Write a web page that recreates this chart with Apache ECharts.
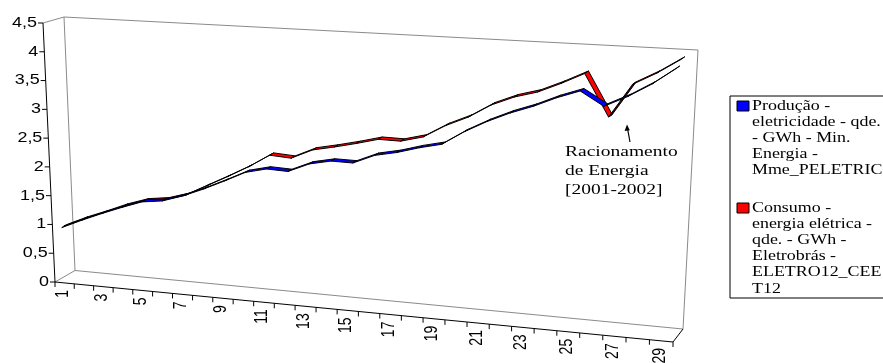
<!DOCTYPE html>
<html>
<head>
<meta charset="utf-8">
<script src="https://cdn.jsdelivr.net/npm/echarts@6/dist/echarts.min.js"></script>
<style>
  html, body { margin: 0; padding: 0; background: #ffffff; }
  #chart { width: 883px; height: 363px; }
</style>
</head>
<body>
<div id="chart"></div>
<script>
// ---- data -------------------------------------------------------------
const categories = ['1','2','3','4','5','6','7','8','9','10','11','12','13','14','15',
  '16','17','18','19','20','21','22','23','24','25','26','27','28','29'];

// Produção - eletricidade (index, base = 1)
const producao = [1.00, 1.15, 1.29, 1.42, 1.54, 1.58, 1.69, 1.83, 1.99, 2.16,
  2.24, 2.22, 2.37, 2.44, 2.43, 2.58, 2.65, 2.75, 2.83, 3.06,
  3.25, 3.41, 3.54, 3.70, 3.83, 3.60, 3.78, 4.00, 4.27];

// Consumo - energia elétrica (index, base = 1)
const consumo = [1.00, 1.15, 1.28, 1.42, 1.53, 1.57, 1.67, 1.85, 2.03, 2.22,
  2.44, 2.41, 2.57, 2.64, 2.72, 2.81, 2.80, 2.89, 3.10, 3.26,
  3.48, 3.63, 3.73, 3.89, 4.07, 3.38, 3.93, 4.13, 4.37];

const yTickValues = [0, 0.5, 1, 1.5, 2, 2.5, 3, 3.5, 4, 4.5];
const yTickLabels = ['0', '0,5', '1', '1,5', '2', '2,5', '3', '3,5', '4', '4,5'];

const seriesNames = [
  'Produção - eletricidade - qde. - GWh - Min. Energia - Mme_PELETRIC',
  'Consumo - energia elétrica - qde. - GWh - Eletrobrás - ELETRO12_CEET12'
];
const legendLines = [
  ['Produção -', 'eletricidade - qde.', '- GWh - Min.', 'Energia -', 'Mme_PELETRIC'],
  ['Consumo -', 'energia elétrica -', 'qde. - GWh -', 'Eletrobrás -', 'ELETRO12_CEE', 'T12']
];
const annotationLines = ['Racionamento', 'de Energia', '[2001-2002]'];

// ---- look -------------------------------------------------------------
const COLORS = ['#0000ff', '#ff0000'];
const UNDERSIDE = ['#00003a', '#3a0000'];
const FRAME_GRAY = '#8a8a8a';
const AXIS_FONT = '14px "Liberation Sans", Arial, sans-serif';
const SERIF = '"Liberation Serif", "Times New Roman", serif';
const STRETCH = 1.28;               // horizontal stretch of the lettering

// ---- 3-D box projection -----------------------------------------------
// planes given by their four corners on the page: left/right x bottom/top
const FRONT = { lb: [55, 282], lt: [43, 23], rb: [673, 342], rt: [688, 58] };
const BACK  = { lb: [75, 270.5], lt: [64, 17], rb: [683, 329], rt: [698, 50] };
const PLANE_CONSUMO  = { lb: [66, 282.5], lt: [66, 23.75], rb: [683, 329], rt: [683, 50] };
const PLANE_PRODUCAO = { lb: [64, 284], lt: [64, 25.25], rb: [678, 332], rt: [678, 53] };
const PERSPECTIVE = 0.9;            // far-left vs near-right foreshortening
const RIBBON_LEFT = [4.5, -2.1];    // ribbon depth vector on the page, left end
const RIBBON_RIGHT = [3.6, -2.6];   // ... and right end

function lerp(a, b, t) { return a + (b - a) * t; }
function persp(u) { return PERSPECTIVE * u / ((1 - u) + PERSPECTIVE * u); }
function onPlane(pl, s, t) {
  const g = persp(s);
  const lx = lerp(pl.lb[0], pl.lt[0], t), ly = lerp(pl.lb[1], pl.lt[1], t);
  const rx = lerp(pl.rb[0], pl.rt[0], t), ry = lerp(pl.rb[1], pl.rt[1], t);
  return [lerp(lx, rx, g), lerp(ly, ry, g)];
}
// normalised position (0..1) of a value in the hidden cartesian grid
function norm(api, cs, idx, val) {
  const p = api.coord([idx, val]);
  return [(p[0] - cs.x) / cs.width, (cs.y + cs.height - p[1]) / cs.height];
}

// ---- renderers --------------------------------------------------------
function ribbon(plane, si) {
  const N = categories.length;
  const half = (u) => {
    const g = persp(u);
    return [lerp(RIBBON_LEFT[0], RIBBON_RIGHT[0], g) / 2, lerp(RIBBON_LEFT[1], RIBBON_RIGHT[1], g) / 2];
  };
  return function (params, api) {
    const cs = params.coordSys;
    const i = api.value(0);
    const na = norm(api, cs, i, api.value(1));
    const nb = norm(api, cs, i + 1, api.value(2));
    const ua = (na[0] * N - 0.5) / (N - 1), ub = (nb[0] * N - 0.5) / (N - 1);
    const a = onPlane(plane, ua, na[1]);
    const b = onPlane(plane, ub, nb[1]);
    const ha = half(ua), hb = half(ub);
    // top face faces the viewer when the depth vector lies above the segment
    const dx = b[0] - a[0], dy = b[1] - a[1];
    const top = dx * (ha[1] + hb[1]) - dy * (ha[0] + hb[0]) < 0;
    return {
      type: 'polygon',
      shape: { points: [
        [a[0] - ha[0], a[1] - ha[1]], [b[0] - hb[0], b[1] - hb[1]],
        [b[0] + hb[0], b[1] + hb[1]], [a[0] + ha[0], a[1] + ha[1]]
      ] },
      style: { fill: top ? COLORS[si] : UNDERSIDE[si], stroke: '#000', lineWidth: 1, lineJoin: 'round' }
    };
  };
}

function line(p, q, color, w) {
  return { type: 'line', shape: { x1: p[0], y1: p[1], x2: q[0], y2: q[1] },
           style: { stroke: color, lineWidth: w || 1 } };
}

function frameRenderer(params, api) {
  const cs = params.coordSys;
  const N = categories.length;
  const F = (s, t) => onPlane(FRONT, s, t);
  const B = (s, t) => onPlane(BACK, s, t);
  const kids = [];

  // back wall and floor sides
  kids.push({ type: 'polyline', shape: { points: [B(0, 0), B(0, 1), B(1, 1), B(1, 0), B(0, 0)] },
              style: { stroke: FRAME_GRAY, lineWidth: 1, fill: null } });
  kids.push(line(F(0, 0), B(0, 0), FRAME_GRAY));
  kids.push(line(F(0, 1), B(0, 1), FRAME_GRAY));
  kids.push(line(F(1, 0), B(1, 0), '#000'));

  // value axis
  kids.push(line(F(0, 0), F(0, 1), '#000'));
  yTickValues.forEach((v, i) => {
    const t = norm(api, cs, 0, v)[1];
    const p = F(0, t);
    kids.push(line([p[0] - 5, p[1]], p, '#000'));
    kids.push({ type: 'text', x: p[0] - 6, y: p[1], scaleX: STRETCH,
      style: { text: yTickLabels[i], font: AXIS_FONT, fill: '#000', align: 'right', verticalAlign: 'middle' } });
  });

  // category axis
  kids.push(line(F(0, 0), F(1, 0), '#000'));
  const band = api.size([1, 0])[0];
  const c0 = api.coord([0, 0])[0];
  for (let j = 0; j <= N; j++) {
    const s = (c0 - band / 2 + j * band - cs.x) / cs.width;
    const p = F(s, 0);
    kids.push(line(p, [p[0], p[1] + 5], '#000'));
  }
  categories.forEach((c, k) => {
    if (k % 2 !== 0) return;
    const s = norm(api, cs, k, 0)[0];
    const p = F(s, 0);
    kids.push({ type: 'group', x: p[0] - 1.5, y: p[1] + 7, scaleX: STRETCH, children: [
      { type: 'text', x: 0, y: 0, rotation: Math.PI / 2,
        style: { text: c, font: AXIS_FONT, fill: '#000', align: 'right', verticalAlign: 'middle' } }
    ] });
  });
  return { type: 'group', children: kids };
}

function segments(arr) {
  return arr.slice(0, -1).map((v, i) => [i, v, arr[i + 1]]);
}

// ---- legend and note --------------------------------------------------
const LEG_X = 730, LEG_TOP = 96, LEG_LINE = 16.2;
const legendGraphics = [{
  type: 'rect', shape: { x: LEG_X, y: LEG_TOP, width: 200, height: 202 },
  style: { fill: '#fff', stroke: '#000', lineWidth: 1 }, z: 10
}];
let yCursor = LEG_TOP + 10;
legendLines.forEach((lines, si) => {
  legendGraphics.push({ type: 'rect', shape: { x: 737, y: yCursor - 5, width: 12, height: 10 },
    style: { fill: COLORS[si], stroke: '#000', lineWidth: 1 }, z: 11 });
  lines.forEach((txt, li) => {
    legendGraphics.push({ type: 'text', x: 752, y: yCursor + li * LEG_LINE, scaleX: STRETCH, z: 11,
      style: { text: txt, font: '14px ' + SERIF, fill: '#000', align: 'left', verticalAlign: 'middle' } });
  });
  yCursor += lines.length * LEG_LINE + 21;
});

const noteGraphics = annotationLines.map((txt, i) => ({
  type: 'text', x: 565, y: 152 + i * 19, scaleX: 1.3, z: 10,
  style: { text: txt, font: '15px ' + SERIF, fill: '#000', align: 'left', verticalAlign: 'middle' }
}));
noteGraphics.push({ type: 'line', shape: { x1: 630, y1: 142, x2: 627.6, y2: 129 },
  style: { stroke: '#000', lineWidth: 1.2 }, z: 10 });
noteGraphics.push({ type: 'polygon', shape: { points: [[627, 124.5], [624.6, 131], [629.8, 130.2]] },
  style: { fill: '#000' }, z: 10 });

// ---- chart ------------------------------------------------------------
const chart = echarts.init(document.getElementById('chart'));
chart.setOption({
  animation: false,
  backgroundColor: '#fff',
  grid: { left: 100, right: 100, top: 40, bottom: 40, show: false },
  xAxis: { type: 'category', data: categories, show: false },
  yAxis: { type: 'value', min: 0, max: 4.5, interval: 0.5, show: false },
  series: [
    { type: 'custom', name: 'frame', renderItem: frameRenderer, data: [[0, 0]],
      clip: false, silent: true, z: 1 },
    { type: 'custom', name: seriesNames[1], renderItem: ribbon(PLANE_CONSUMO, 1),
      data: segments(consumo), encode: { x: 0, y: 1 }, clip: false, z: 2 },
    { type: 'custom', name: seriesNames[0], renderItem: ribbon(PLANE_PRODUCAO, 0),
      data: segments(producao), encode: { x: 0, y: 1 }, clip: false, z: 3 }
  ],
  graphic: legendGraphics.concat(noteGraphics)
});
</script>
</body>
</html>
